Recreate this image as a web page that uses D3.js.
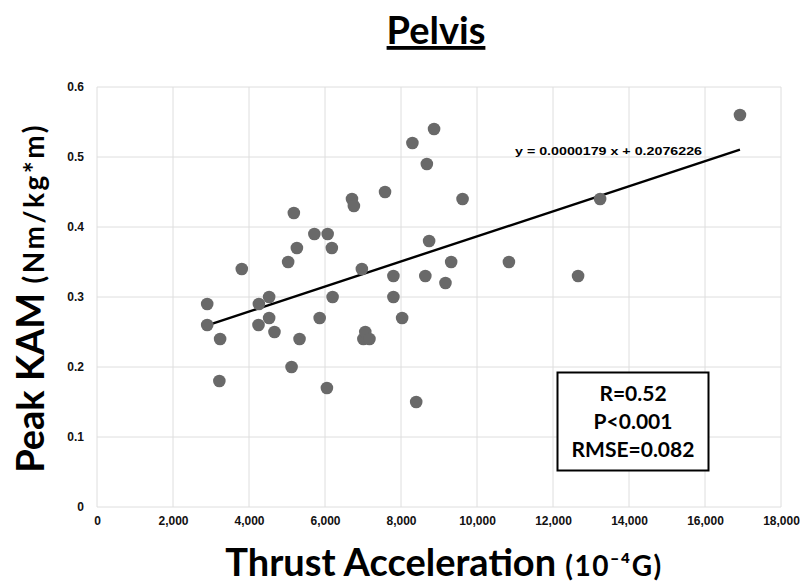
<!DOCTYPE html>
<html>
<head>
<meta charset="utf-8">
<script src="https://cdn.jsdelivr.net/npm/d3@7"></script>
<style>
  body { margin: 0; background: #fff; }
  svg text { font-family: Lato, "Liberation Sans", sans-serif; }
</style>
</head>
<body>
<svg id="chart" width="800" height="586"></svg>
<script>
// thrust acceleration (10^-4 G) vs peak KAM (Nm/kg*m)
const thrust = [2900, 2900, 3220, 3240, 3810, 4260, 4250, 4530, 4530, 4670,
    5030, 5120, 5180, 5260, 5330, 5720, 5860, 6050, 6070, 6180,
    6200, 6710, 6760, 6970, 7010, 7060, 7170, 7580, 7800, 7800,
    8030, 8300, 8400, 8640, 8680, 8740, 8870, 9170, 9320, 9620,
    10840, 12660, 13240, 16920];
const kam = [0.29, 0.26, 0.18, 0.24, 0.34, 0.29, 0.26, 0.30, 0.27, 0.25,
    0.35, 0.20, 0.42, 0.37, 0.24, 0.39, 0.27, 0.17, 0.39, 0.37,
    0.30, 0.44, 0.43, 0.34, 0.24, 0.25, 0.24, 0.45, 0.33, 0.30,
    0.27, 0.52, 0.15, 0.33, 0.49, 0.38, 0.54, 0.32, 0.35, 0.44,
    0.35, 0.33, 0.44, 0.56];
const xTicks = [0, 2000, 4000, 6000, 8000, 10000, 12000, 14000, 16000, 18000];
const yTicks = [0, 0.1, 0.2, 0.3, 0.4, 0.5, 0.6];
const slope = 0.0000179, intercept = 0.2076226;
const stats = ["R=0.52", "P<0.001", "RMSE=0.082"];

let svg = d3.select("#chart");
let x = d3.scaleLinear().domain([0, 18000]).range([97, 781]);
let y = d3.scaleLinear().domain([0, 0.6]).range([507, 87]);

// grid
svg.append("g")
    .selectAll("line.v")
    .data(xTicks)
    .enter().append("line")
    .attr("x1", d => x(d)).attr("x2", d => x(d))
    .attr("y1", y(0)).attr("y2", y(0.6))
    .attr("stroke", "#dedede").attr("stroke-width", 1);
svg.append("g")
    .selectAll("line.h")
    .data(yTicks)
    .enter().append("line")
    .attr("x1", x(0)).attr("x2", x(18000))
    .attr("y1", d => y(d)).attr("y2", d => y(d))
    .attr("stroke", "#dedede").attr("stroke-width", 1);

// axes labels (no domain / tick lines)
let xAxis = svg.append("g")
    .attr("transform", `translate(0,${y(0)})`)
    .call(d3.axisBottom(x).tickValues(xTicks).tickFormat(d3.format(",")).tickSize(0).tickPadding(9));
let yAxis = svg.append("g")
    .attr("transform", `translate(${x(0)},0)`)
    .call(d3.axisLeft(y).tickValues(yTicks).tickFormat(d => d === 0 ? "0" : d3.format(".1f")(d)).tickSize(0).tickPadding(13));
[xAxis, yAxis].forEach(a => {
    a.select(".domain").remove();
    a.selectAll("text")
        .style("font-family", "'Liberation Sans Narrow', 'Liberation Sans', sans-serif")
        .style("font-weight", "bold")
        .style("font-size", "12px")
        .attr("fill", "#111");
});

// trendline
let xr = d3.extent(thrust);
svg.append("line")
    .attr("x1", x(xr[0])).attr("y1", y(slope * xr[0] + intercept))
    .attr("x2", x(xr[1])).attr("y2", y(slope * xr[1] + intercept))
    .attr("stroke", "#000").attr("stroke-width", 2.4);

// points
svg.append("g")
    .selectAll("circle")
    .data(thrust.map((t, i) => [t, kam[i]]))
    .enter().append("circle")
    .attr("cx", d => x(d[0]))
    .attr("cy", d => y(d[1]))
    .attr("r", 6.3)
    .attr("fill", "#696969");

// equation
svg.append("text")
    .attr("x", 515).attr("y", 155)
    .style("font-family", "'Liberation Sans', sans-serif")
    .style("font-weight", "bold")
    .style("font-size", "11px")
    .attr("textLength", 187).attr("lengthAdjust", "spacingAndGlyphs")
    .text("y = 0.0000179 x + 0.2076226");

// stats box
svg.append("rect")
    .attr("x", 557.5).attr("y", 372.5).attr("width", 151).attr("height", 98)
    .attr("fill", "#fff").attr("stroke", "#000").attr("stroke-width", 2);
svg.append("g")
    .selectAll("text")
    .data(stats)
    .enter().append("text")
    .attr("x", 633)
    .attr("y", (d, i) => 400.5 + i * 28)
    .attr("text-anchor", "middle")
    .style("font-weight", "bold")
    .style("font-size", "21px")
    .text(d => d);

// title
svg.append("text")
    .attr("x", 436).attr("y", 44)
    .attr("text-anchor", "middle")
    .style("font-weight", "bold")
    .style("font-size", "38px")
    .style("text-decoration", "underline")
    .text("Pelvis");

// x title
let xt = svg.append("text")
    .attr("x", 444).attr("y", 576)
    .attr("text-anchor", "middle")
    .style("font-weight", "bold");
xt.append("tspan").style("font-size", "38px").text("Thrust Acceleration ");
xt.append("tspan").style("font-size", "28px").style("letter-spacing", "1.5px").text("(10⁻⁴G)");

// y title
let yt = svg.append("text")
    .attr("transform", "translate(44,298) rotate(-90)")
    .attr("text-anchor", "middle")
    .style("font-weight", "bold");
yt.append("tspan").style("font-size", "38px").text("Peak KAM ");
yt.append("tspan").style("font-size", "28px").style("letter-spacing", "2.5px").text("(Nm/kg*m)");
</script>
</body>
</html>
